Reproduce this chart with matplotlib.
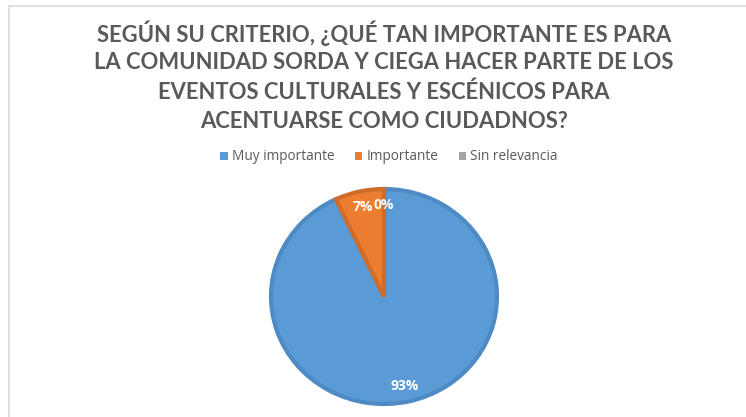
import matplotlib.pyplot as plt
from matplotlib.patches import Rectangle

# data
categorias = ["Muy importante", "Importante", "Sin relevancia"]
valores = [93, 7, 0]
etiquetas = ["93%", "7%", "0%"]
colores = ["#5B9BD5", "#ED7D31", "#A5A5A5"]
bordes = ["#4E8AC4", "#D06C28", "#8F8F8F"]
titulo = [
    "SEGÚN SU CRITERIO, ¿QUÉ TAN IMPORTANTE ES PARA",
    "LA COMUNIDAD SORDA Y CIEGA HACER PARTE DE LOS",
    "EVENTOS CULTURALES Y ESCÉNICOS PARA",
    "ACENTUARSE COMO CIUDADNOS?",
]

W, H = 746, 417
fig = plt.figure(figsize=(W / 100, H / 100), dpi=100)
fig.patch.set_facecolor("white")

# marco gris del gráfico
fig.patches.append(Rectangle((9 / W, -0.01), 1.0, 1 - 6 / H + 0.01, transform=fig.transFigure,
                             fill=False, edgecolor="#D9D9D9", linewidth=1.2))

# título
for i, linea in enumerate(titulo):
    fig.text(384 / W, 1 - (33 + i * 29.5) / H, linea, ha="center", va="center",
             fontsize=15.8, fontweight="bold", color="#595959", family="Lato")

# pastel
cx, cy, rx, ry = 384, 296.5, 113, 107.5
ax = fig.add_axes([(cx - rx) / W, 1 - (cy + ry) / H, 2 * rx / W, 2 * ry / H])
wedges, _, autotexts = ax.pie(valores, colors=colores, startangle=90, counterclock=False,
                              autopct="%1.0f%%", pctdistance=0.85,
                              wedgeprops=dict(linewidth=3, joinstyle="miter"),
                              textprops=dict(color="white", fontsize=10, fontweight="bold",
                                             family="Open Sans"))
for w, b, v in zip(wedges, bordes, valores):
    w.set_edgecolor(b)
    if v == 0:
        w.set_linewidth(0)
for t, e in zip(autotexts, etiquetas):
    t.set_text(e)
ax.set_aspect("auto")
ax.set_xlim(-1, 1)
ax.set_ylim(-1, 1)
ax.axis("off")

# leyenda
handles = [Rectangle((0, 0), 1, 1, facecolor=c, edgecolor="none") for c in colores]
leg = fig.legend(handles, categorias, loc="center", bbox_to_anchor=(389 / W, 1 - 157 / H),
                 ncol=3, frameon=False, handlelength=0.55, handleheight=0.55,
                 handletextpad=0.3, columnspacing=1.5,
                 prop=dict(family="Open Sans", size=9.8))
for t in leg.get_texts():
    t.set_color("#595959")

fig.savefig("out.png", dpi=100)
